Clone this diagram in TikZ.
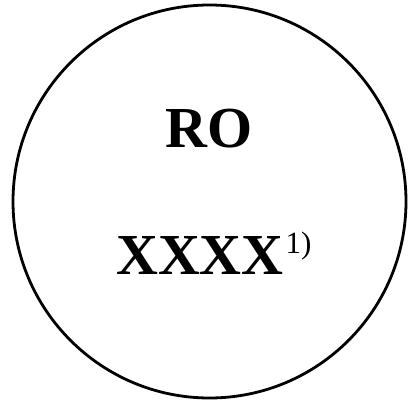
\documentclass[tikz,border=0pt]{standalone}
\usepackage{fontspec}
\setmainfont{Liberation Serif}
\tikzset{
  ring/.style={draw=black, line width=2.8pt, circle, minimum size=393pt, inner sep=0pt},
  bigtext/.style={inner sep=0pt, font=\fontsize{58}{58}\selectfont\bfseries}
}
\begin{document}
\begin{tikzpicture}[x=1pt,y=1pt]
\useasboundingbox (0,0) rectangle (409,400);
\node[ring] (c) at (209.5,198.5) {};
\node[bigtext, anchor=base] (ro) at (209,253) {RO};
\node[bigtext, anchor=base west] (xx) at (116,126) {XXXX\hspace{2pt}\raisebox{21pt}{\fontsize{31}{31}\selectfont\mdseries 1)}};
\end{tikzpicture}
\end{document}
